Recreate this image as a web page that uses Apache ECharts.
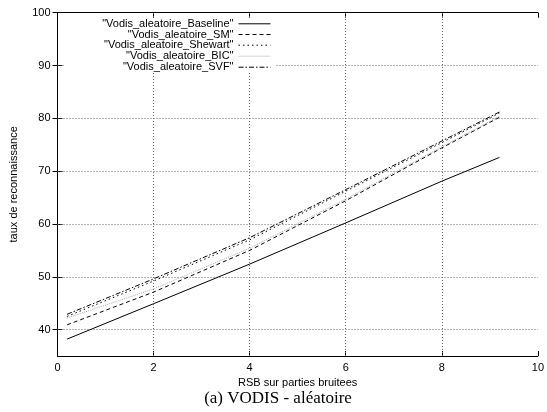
<!DOCTYPE html>
<html>
<head>
<meta charset="utf-8">
<script src="https://cdn.jsdelivr.net/npm/echarts@6/dist/echarts.min.js"></script>
<style>html,body{margin:0;padding:0;background:#fff}#c{width:547px;height:412px}</style>
</head>
<body>
<div id="c"></div>
<script>
var xValues = [0.2, 2, 4, 6, 8, 9.2];
var baseline = [38.2, 44.9, 52.4, 60.2, 68.1, 72.6];
var sm = [40.9, 47.1, 55.0, 64.4, 74.4, 80.2];
var shewart = [42.5, 49.2, 57.0, 66.2, 75.4, 81.0];
var bic = [42.2, 47.7, 55.4, 64.7, 74.6, 80.4];
var svf = [42.9, 49.6, 57.4, 66.5, 75.7, 81.2];
var seriesNames = ['"Vodis_aleatoire_Baseline"', '"Vodis_aleatoire_SM"', '"Vodis_aleatoire_Shewart"', '"Vodis_aleatoire_BIC"', '"Vodis_aleatoire_SVF"'];
var xTicks = [0, 2, 4, 6, 8, 10];
var yTicks = [40, 50, 60, 70, 80, 90, 100];
var xGrid = [2, 4, 6, 8];
var yGrid = [40, 50, 60, 70, 80, 90];

function pairs(ys) { return xValues.map(function (x, i) { return [x, ys[i]]; }); }

var styles = [
  { color: '#000', type: 'solid' },
  { color: '#000', type: [4, 3] },
  { color: '#000', type: [1.5, 3] },
  { color: '#aaa', type: [1, 1] },
  { color: '#000', type: [5, 2, 1.5, 2] }
];
var datasets = [baseline, sm, shewart, bic, svf];

var font = 'Liberation Sans';
var series = datasets.map(function (d, i) {
  return {
    name: seriesNames[i], type: 'line', data: pairs(d), symbol: 'none', showSymbol: false, z: 5,
    lineStyle: { color: styles[i].color, type: styles[i].type, width: 1 },
    itemStyle: { color: styles[i].color }
  };
});
series.push({
  type: 'line', data: [], silent: true, z: 1,
  markLine: {
    silent: true, symbol: 'none', label: { show: false },
    lineStyle: { color: '#666', type: [1, 2], width: 1 },
    data: xGrid.map(function (v) { return { xAxis: v }; }).concat(yGrid.map(function (v) { return { yAxis: v }; }))
  }
});

var legendTops = [23.3, 34, 44.7, 55.7, 66.7];
var legends = seriesNames.map(function (n, i) {
  return {
    data: [n], orient: 'horizontal', align: 'right', right: 276, top: legendTops[i] - 5, padding: 0,
    itemWidth: 32, itemHeight: 10, itemGap: 0, z: 200, selectedMode: false,
    itemStyle: { opacity: 0 },
    lineStyle: { width: 1 },
    textStyle: { fontFamily: font, fontSize: 11, color: '#000' }
  };
});

var tickStyle = { show: true, inside: true, length: 5, lineStyle: { color: '#000', width: 1 } };
var chart = echarts.init(document.getElementById('c'), null, { renderer: 'canvas' });
chart.setOption({
  animation: false,
  backgroundColor: '#fff',
  grid: { left: 57.5, right: 9, top: 12.7, bottom: 56, containLabel: false },
  legend: legends,
  xAxis: [{
    type: 'value', min: 0, max: 10, interval: 2, position: 'bottom',
    name: 'RSB sur parties bruitees', nameLocation: 'middle', nameGap: 21,
    nameTextStyle: { fontFamily: font, fontSize: 11, color: '#000' },
    axisLine: { show: true, lineStyle: { color: '#000', width: 1 } },
    axisTick: tickStyle, splitLine: { show: false },
    axisLabel: { fontFamily: font, fontSize: 11, color: '#000', margin: 6 }
  }, {
    type: 'value', min: 0, max: 10, interval: 2, position: 'top',
    axisLine: { show: true, lineStyle: { color: '#000', width: 1 } },
    axisTick: tickStyle, splitLine: { show: false }, axisLabel: { show: false }
  }],
  yAxis: [{
    type: 'value', min: 35, max: 100, interval: 5, position: 'left',
    name: 'taux de reconnaissance', nameLocation: 'middle', nameGap: 38, nameRotate: 90,
    nameTextStyle: { fontFamily: font, fontSize: 11, color: '#000' },
    axisLine: { show: true, lineStyle: { color: '#000', width: 1 } },
    axisTick: Object.assign({ customValues: yTicks }, tickStyle),
    splitLine: { show: false },
    axisLabel: { customValues: yTicks, fontFamily: font, fontSize: 11, color: '#000', margin: 7 }
  }, {
    type: 'value', min: 35, max: 100, interval: 5, position: 'right',
    axisLine: { show: true, lineStyle: { color: '#000', width: 1 } },
    axisTick: Object.assign({ customValues: yTicks }, tickStyle),
    splitLine: { show: false }, axisLabel: { show: false }
  }],
  graphic: [
    { type: 'rect', z: 100, shape: { x: 64, y: 19, width: 211, height: 54 }, style: { fill: '#fff' } },
    { type: 'text', z: 100, x: 278, y: 399, style: { text: '(a) VODIS - aléatoire', font: '17px "Liberation Serif"', fill: '#000', textAlign: 'center', textVerticalAlign: 'middle' } }
  ],
  series: series
});
</script>
</body>
</html>
